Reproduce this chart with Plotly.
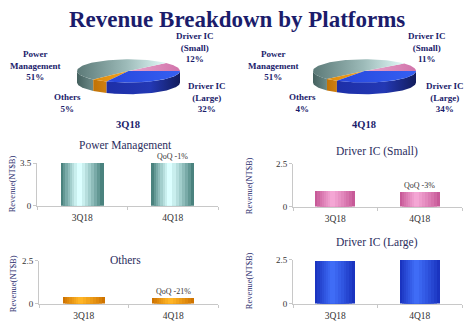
import numpy as np
import plotly.graph_objects as go

W, H = 474, 326

# ---------------- data ----------------
quarters = ['3Q18', '4Q18']
segments = ['Driver IC (Small)', 'Power Management', 'Others', 'Driver IC (Large)']
share_3q18 = [12, 51, 5, 32]
share_4q18 = [11, 51, 4, 34]

panel_titles = ['Power Management', 'Driver IC (Small)', 'Others', 'Driver IC (Large)']
pm_rev = [3.5, 3.46]
dics_rev = [0.90, 0.87]
oth_rev = [0.41, 0.32]
dicl_rev = [2.42, 2.54]
qoq_labels = ['QoQ -1%', 'QoQ -3%', 'QoQ -21%', 'QoQ +5%']
y_tops = [3.5, 2.5, 2.5, 2.5]
y_axis_title = 'Revenue(NT$B)'

SERIF = 'Liberation Serif'
NAVY = '#1b1c6b'

fig = go.Figure()


def px_x(x):
    return x / W


def px_y(y):
    return 1 - y / H


def hex2rgb(h):
    h = h.lstrip('#')
    return [int(h[i:i + 2], 16) for i in (0, 2, 4)]


def mix(c1, c2, f):
    a, b = hex2rgb(c1), hex2rgb(c2)
    return 'rgb(%d,%d,%d)' % tuple(round(a[i] + (b[i] - a[i]) * f) for i in range(3))


# ---------------- 3D pies (drawn in a pixel-mapped axis) ----------------
top_grad = {
    'Driver IC (Small)': [[0, '#e9a6cd'], [1, '#d173aa']],
    'Power Management': [[0, '#5c7a78'], [0.55, '#9cbab8'], [1, '#e2faf8']],
    'Others': [[0, '#e08a08'], [1, '#f0a020']],
    'Driver IC (Large)': [[0, '#2746dc'], [1, '#3560f2']],
}
side_grad = {
    'Driver IC (Small)': [[0, '#b05088'], [1, '#b05088']],
    'Power Management': [[0, '#44605e'], [1, '#6c8a88']],
    'Others': [[0, '#c07206'], [1, '#d08010']],
    'Driver IC (Large)': [[0, '#1d2fa8'], [0.6, '#2338b4'], [1, '#121c5c']],
}


def pie3d(cx, cy, rx, ry, depth, shares):
    total = float(sum(shares))
    ang = np.concatenate([[0], np.cumsum(shares)]) / total * 360.0
    # visible front side walls
    for i, seg in enumerate(segments):
        lo, hi = max(ang[i], 180.0), min(ang[i + 1], 360.0)
        if hi > lo:
            t = np.radians(np.linspace(lo, hi, 50))
            xs = cx + rx * np.cos(t)
            ys = cy - ry * np.sin(t)
            X = np.concatenate([xs, xs[::-1]])
            Y = np.concatenate([ys, ys[::-1] + depth])
            fig.add_trace(go.Scatter(
                x=X, y=Y, mode='lines', fill='toself', line=dict(width=0),
                fillgradient=dict(type='horizontal', colorscale=side_grad[seg]),
                xaxis='x5', yaxis='y5', hoverinfo='skip', showlegend=False))
    # top faces
    for i, seg in enumerate(segments):
        t = np.radians(np.linspace(ang[i], ang[i + 1], 80))
        X = np.concatenate([[cx], cx + rx * np.cos(t), [cx]])
        Y = np.concatenate([[cy], cy - ry * np.sin(t), [cy]])
        fig.add_trace(go.Scatter(
            x=X, y=Y, mode='lines', fill='toself', line=dict(width=0),
            fillgradient=dict(type='horizontal', colorscale=top_grad[seg]),
            xaxis='x5', yaxis='y5', hoverinfo='skip', showlegend=False,
            name=seg))


pie3d(128.5, 68, 51.5, 12, 12, share_3q18)
pie3d(364.5, 68, 51.5, 12, 12, share_4q18)


def seg_label(seg, share):
    if '(' in seg:
        txt = seg.replace(' (', '<br>(')
    else:
        txt = seg.replace(' ', '<br>')
    return '%s<br>%d%%' % (txt, share)


label_pos_left = {
    'Power Management': (35, 62),
    'Driver IC (Small)': (195, 44),
    'Driver IC (Large)': (207, 95),
    'Others': (67, 101),
}
label_pos_right = {
    'Power Management': (273, 62),
    'Driver IC (Small)': (427, 44),
    'Driver IC (Large)': (445, 95),
    'Others': (302, 101),
}
annotations = []
for shares, pos in ((share_3q18, label_pos_left), (share_4q18, label_pos_right)):
    for seg, s in zip(segments, shares):
        x, y = pos[seg]
        annotations.append(dict(
            text='<b>%s</b>' % seg_label(seg, s), xref='paper', yref='paper',
            x=px_x(x), y=px_y(y), xanchor='center', yanchor='middle',
            showarrow=False, align='center',
            font=dict(family=SERIF, size=9, color=NAVY)))

for q, x in zip(quarters, (128, 364)):
    annotations.append(dict(
        text='<b>%s</b>' % q, xref='paper', yref='paper', x=px_x(x), y=px_y(123),
        xanchor='center', yanchor='middle', showarrow=False,
        font=dict(family=SERIF, size=10.5, color=NAVY)))

# title
annotations.append(dict(
    text='<b>Revenue Breakdown by Platforms</b>', xref='paper', yref='paper',
    x=px_x(237), y=px_y(15), xanchor='center', yanchor='middle', showarrow=False,
    font=dict(family=SERIF, size=23, color=NAVY)))

# ---------------- bar panels ----------------
panels = [
    # values, x-domain px, baseline px, top px, title pos, ylabel pos, edge, light
    (pm_rev, (37, 218), 207, 163, (126, 145), (12, 185), '#4a827e', '#dcffff'),
    (dics_rev, (293, 462), 208, 164, (377, 151), (249, 187), '#c75a98', '#f4a6d4'),
    (oth_rev, (39, 218), 308, 264, (125, 263), (13, 288), '#cf7400', '#ffb526'),
    (dicl_rev, (293, 462), 308, 263, (377, 245), (249, 285), '#1a34c0', '#3f6cf6'),
]

layers = 8
full_w = 0.47
for k, (vals, (x0, x1), base, top, tpos, ypos, edge, light) in enumerate(panels):
    n = k + 1
    xa, ya = ('x' if n == 1 else 'x%d' % n), ('y' if n == 1 else 'y%d' % n)
    for j in range(layers):
        w = full_w * (1 - j / layers)
        off = -full_w / 2 + (full_w - w) * 0.42
        f = (j / (layers - 1)) ** 0.9
        fig.add_trace(go.Bar(
            x=quarters, y=vals, width=w, offset=off,
            marker=dict(color=mix(edge, light, f), line=dict(width=0)),
            xaxis=xa, yaxis=ya, hoverinfo='skip', showlegend=False))
    axis_x = dict(
        domain=[px_x(x0), px_x(x1)], type='category', categoryarray=quarters,
        range=[-0.5, 1.5], showline=True, linecolor='#c8c8c8', linewidth=1,
        ticks='outside', tickson='boundaries', ticklen=3, tickcolor='#c8c8c8',
        showgrid=False, zeroline=False, anchor=ya, ticklabelstandoff=3,
        tickfont=dict(family=SERIF, size=9.5, color='#333333'))
    axis_y = dict(
        domain=[px_y(base), px_y(top)], range=[0, y_tops[k]],
        tickvals=[0, y_tops[k]], ticktext=['0', ('%g' % y_tops[k])],
        showline=True, linecolor='#c8c8c8', linewidth=1, ticks='outside',
        ticklen=3, tickcolor='#c8c8c8', showgrid=False, zeroline=False,
        anchor=xa, tickfont=dict(family=SERIF, size=9, color='#333333'))
    fig.update_layout(**{('xaxis' if n == 1 else 'xaxis%d' % n): axis_x,
                         ('yaxis' if n == 1 else 'yaxis%d' % n): axis_y})
    # QoQ label
    annotations.append(dict(
        text=qoq_labels[k], xref=xa, yref=ya, x=quarters[1], y=vals[1],
        xanchor='center', yanchor='bottom', yshift=0, showarrow=False,
        font=dict(family=SERIF, size=8, color='#333333')))
    # panel title
    annotations.append(dict(
        text=panel_titles[k], xref='paper', yref='paper', x=px_x(tpos[0]),
        y=px_y(tpos[1]), xanchor='center', yanchor='middle', showarrow=False,
        font=dict(family=SERIF, size=11.5, color='#2b2d5e')))
    # y axis title
    annotations.append(dict(
        text=y_axis_title, xref='paper', yref='paper', x=px_x(ypos[0]),
        y=px_y(ypos[1]), xanchor='center', yanchor='middle', showarrow=False,
        textangle=-90, font=dict(family=SERIF, size=8.5, color='#2b2d6e')))

fig.update_layout(
    width=W, height=H, margin=dict(l=0, r=0, t=0, b=0),
    paper_bgcolor='white', plot_bgcolor='rgba(0,0,0,0)',
    barmode='overlay', bargap=0,
    xaxis5=dict(domain=[0, 1], range=[0, W], visible=False, anchor='y5'),
    yaxis5=dict(domain=[0, 1], range=[H, 0], visible=False, anchor='x5'),
    annotations=annotations,
)

fig.write_html('out.html')
